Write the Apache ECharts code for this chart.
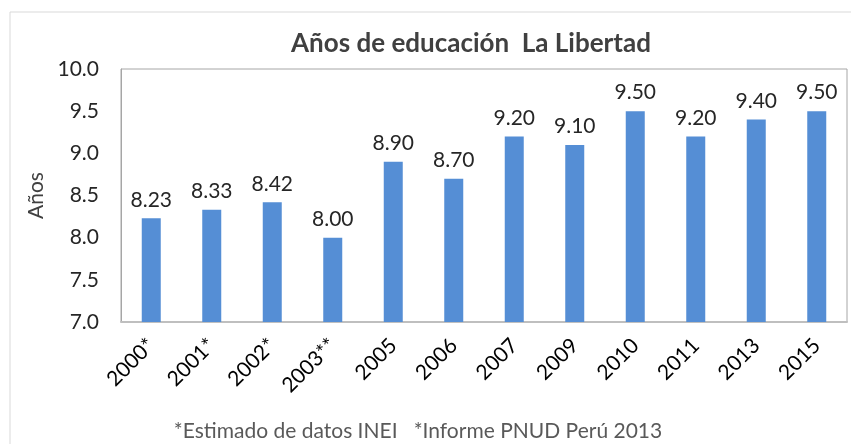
<!DOCTYPE html>
<html>
<head>
<meta charset="utf-8">
<script src="https://cdn.jsdelivr.net/npm/echarts@6/dist/echarts.min.js"></script>
<style>
  html, body { margin: 0; padding: 0; background: #fff; }
  #chart { width: 851px; height: 444px; }
</style>
</head>
<body>
<div id="chart"></div>
<script>
// Datos
const years = ['2000*', '2001*', '2002*', '2003**', '2005', '2006', '2007', '2009', '2010', '2011', '2013', '2015'];
const avgYears = [8.23, 8.33, 8.42, 8.00, 8.90, 8.70, 9.20, 9.10, 9.50, 9.20, 9.40, 9.50];

const chart = echarts.init(document.getElementById('chart'));
const font = 'Lato, "Open Sans", sans-serif';

const option = {
  animation: false,
  textStyle: { fontFamily: font },
  title: {
    text: 'Años de educación  La Libertad',
    left: 466,
    top: 26,
    textAlign: 'center',
    textStyle: { fontSize: 26, fontWeight: 'bold', color: '#404040', fontFamily: font }
  },
  graphic: [
    {
      type: 'rect',
      shape: { x: 10, y: 12, width: 900, height: 500 },
      style: { fill: 'none', stroke: '#d9d9d9', lineWidth: 1 },
      z: -1
    },
    {
      type: 'text',
      x: 418,
      y: 421,
      style: {
        text: '*Estimado de datos INEI   *Informe PNUD Perú 2013',
        fontSize: 21,
        fill: '#595959',
        fontFamily: font,
        align: 'center'
      }
    }
  ],
  grid: {
    left: 121, right: 4, top: 69, bottom: 122,
    show: true,
    borderColor: '#a6a6a6',
    borderWidth: 1
  },
  xAxis: {
    type: 'category',
    data: years,
    axisLine: { lineStyle: { color: '#bfbfbf', width: 2 } },
    axisTick: { show: false },
    axisLabel: { rotate: 45, fontSize: 21, color: '#000', margin: 20, interval: 0 }
  },
  yAxis: {
    type: 'value',
    min: 7,
    max: 10,
    interval: 0.5,
    name: 'Años',
    nameLocation: 'middle',
    nameGap: 67,
    nameTextStyle: { fontSize: 21, color: '#404040' },
    axisLine: { show: true, lineStyle: { color: '#a6a6a6' } },
    axisTick: { show: false },
    splitLine: { show: false },
    axisLabel: {
      fontSize: 21,
      color: '#262626',
      margin: 22,
      formatter: v => v.toFixed(1)
    }
  },
  series: [{
    type: 'bar',
    data: avgYears,
    barWidth: 19,
    itemStyle: { color: '#558ed5' },
    label: {
      show: true,
      position: 'top',
      distance: 8,
      fontSize: 21,
      color: '#262626',
      formatter: p => p.value.toFixed(2)
    }
  }]
};

chart.setOption(option);
window.addEventListener('resize', function () {
  chart.resize();
});
</script>
</body>
</html>
